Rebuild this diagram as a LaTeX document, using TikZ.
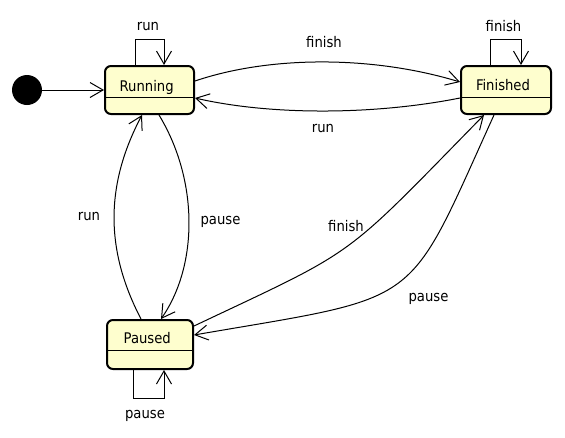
\documentclass[tikz,border=0pt]{standalone}
\usepackage{fontspec}
\setmainfont{DejaVu Sans Condensed}
\usetikzlibrary{arrows.meta,calc}
\definecolor{statefill}{HTML}{FEFECE}
\begin{document}
\begin{tikzpicture}[x=0.75pt,y=-0.75pt,
  statebox/.style={draw=black, line width=1.5pt, fill=statefill, rounded corners=4.5pt, inner sep=0pt},
  divider/.style={line width=0.75pt},
  conn/.style={draw=black, line width=0.75pt, -{Straight Barb[length=9.75pt,width=11.25pt]}},
  loopline/.style={conn, rounded corners=0pt},
  txt/.style={font=\fontsize{11pt}{13pt}\selectfont, inner sep=0pt, anchor=base}
]
\useasboundingbox (0,0) rectangle (565,437);

% states
\node[statebox, minimum width=66.75pt, minimum height=36pt] (run) at (149.5,90) {};
\node[statebox, minimum width=67.5pt, minimum height=36pt] (fin) at (506,90) {};
\node[statebox, minimum width=64.5pt, minimum height=36.75pt] (pau) at (150,344.5) {};
\draw[divider] ($(run.west)+(0,7)$) -- ($(run.east)+(0,7)$);
\draw[divider] ($(fin.west)+(0,7)$) -- ($(fin.east)+(0,7)$);
\draw[divider] ($(pau.west)+(0,5.5)$) -- ($(pau.east)+(0,5.5)$);
\node[txt] (runname) at (146.7,91.7) {Running};
\node[txt] (finname) at (503,90.7) {Finished};
\node[txt] (pauname) at (147.3,343.3) {Paused};

% initial
\node[circle, fill=black, minimum size=22.5pt, inner sep=0pt] (init) at (27,90) {};
\draw[conn] (init.east) -- (run.west);

% self loops
\draw[loopline] ($(run.north)+(-14.5,0)$) -- ++(0,-26) -| ($(run.north)+(14.5,0)$);
\draw[loopline] ($(fin.north)+(-16,0)$) -- ++(0,-26) -| ($(fin.north)+(15,0)$);
\draw[loopline] ($(pau.south)+(-17,0)$) -- ++(0,28) -| ($(pau.south)+(14,0)$);
\node[txt] (lrunloop) at (148,30.7) {run};
\node[txt] (lfinloop) at (503.5,31.7) {finish};
\node[txt] (lpauloop) at (145,418.6) {pause};

% Running <-> Finished
\draw[conn] ($(run.east)+(0,-9)$) .. controls (270,55.5) and (373,55.5) .. ($(fin.west)+(0,-8)$);
\draw[conn] ($(fin.west)+(0,8)$) .. controls (373,115.3) and (270,115.3) .. ($(run.east)+(0,8)$);
\node[txt] (lfin1) at (324,47) {finish};
\node[txt] (lrun1) at (323,132) {run};

% Running <-> Paused
\draw[conn] ($(pau.north)+(-9,0)$) .. controls (105,250) and (105,185) .. ($(run.south)+(-7.5,0)$);
\draw[conn] ($(run.south)+(9.5,0)$) .. controls (198.5,180) and (198.5,265) .. ($(pau.north)+(11,0)$);
\node[txt] (lrun2) at (89,220) {run};
\node[txt] (lpau2) at (220.5,224.6) {pause};

% Paused <-> Finished
\draw[conn] ($(pau.east)+(0,-18.5)$) .. controls (361,247) and (340,262) .. ($(fin.south)+(-22,0)$);
\draw[conn] ($(fin.south)+(-12,0)$) .. controls (405,311) and (426,295) .. ($(pau.east)+(0,-9.5)$);
\node[txt] (lfin3) at (346,231) {finish};
\node[txt] (lpau3) at (428.5,301.6) {pause};
\end{tikzpicture}
\end{document}
